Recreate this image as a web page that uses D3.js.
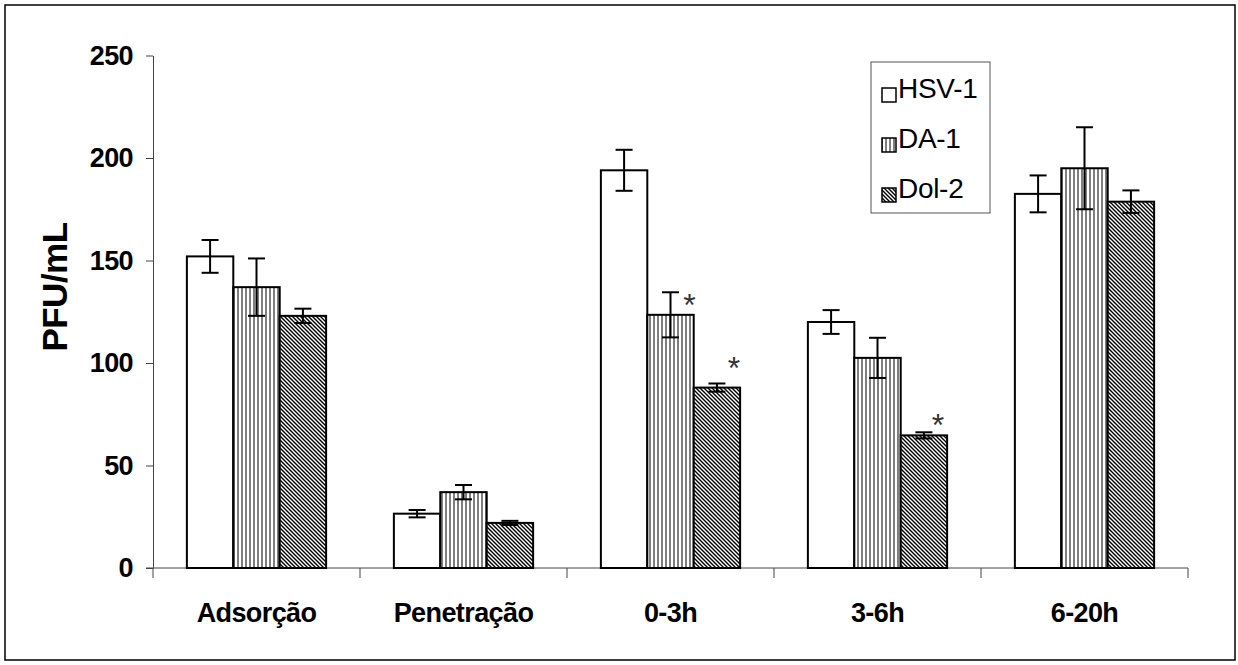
<!DOCTYPE html>
<html>
<head>
<meta charset="utf-8">
<script src="https://cdn.jsdelivr.net/npm/d3@7"></script>
<style>
  body { margin: 0; background: #fff; }
  svg { display: block; font-family: "Liberation Sans", Arial, sans-serif; }
</style>
</head>
<body>
<svg id="chart" width="1238" height="665"></svg>
<script>
const categories = ["Adsorção", "Penetração", "0-3h", "3-6h", "6-20h"];
const seriesNames = ["HSV-1", "DA-1", "Dol-2"];
const hsv1 = [152, 26.5, 194, 120, 182.5];
const hsv1Err = [8, 1.8, 10, 5.8, 9];
const da1 = [137, 37, 123.5, 102.5, 195];
const da1Err = [14, 3.5, 11, 9.8, 20];
const dol2 = [123, 22, 88, 64.7, 178.7];
const dol2Err = [3.5, 1, 2, 1.5, 5.5];
const yTicks = [0, 50, 100, 150, 200, 250];
// significance marks: category, series index, offset of the mark centre from the error bar top
const stars = [
  { cat: "0-3h", s: 1, dx: 19, dy: 6 },
  { cat: "0-3h", s: 2, dx: 17, dy: -23 },
  { cat: "3-6h", s: 2, dx: 14, dy: -14 },
];

const values = [hsv1, da1, dol2];
const errors = [hsv1Err, da1Err, dol2Err];
const fills = ["#fff", "url(#vlines)", "url(#dlines)"];

const svg = d3.select("#chart");

// outer frame
svg.append("rect")
  .attr("x", 5).attr("y", 5)
  .attr("width", 1230).attr("height", 655)
  .attr("fill", "none").attr("stroke", "#000").attr("stroke-width", 1.5);

// patterns
const defs = svg.append("defs");
const vp = defs.append("pattern").attr("id", "vlines")
  .attr("patternUnits", "userSpaceOnUse").attr("width", 4).attr("height", 4);
vp.append("rect").attr("width", 4).attr("height", 4).attr("fill", "#fff");
vp.append("line").attr("x1", 2).attr("x2", 2).attr("y1", 0).attr("y2", 4)
  .attr("stroke", "#000").attr("stroke-width", 1);

const dp = defs.append("pattern").attr("id", "dlines")
  .attr("patternUnits", "userSpaceOnUse").attr("width", 4).attr("height", 4);
dp.append("rect").attr("width", 4).attr("height", 4).attr("fill", "#fff");
dp.append("path").attr("d", "M-1,-1L5,5M3,-1L5,1M-1,3L1,5")
  .attr("stroke", "#000").attr("stroke-width", 1.4);

const x = d3.scaleBand().domain(categories).range([153, 1188]);
const xs = d3.scaleBand().domain(d3.range(3))
  .range([0, x.bandwidth()]).paddingOuter(0.73).paddingInner(0);
const y = d3.scaleLinear().domain([0, 250]).range([568, 55.5]);

// y axis
const yAxis = svg.append("g")
  .attr("transform", "translate(153,0)")
  .call(d3.axisLeft(y).tickValues(yTicks).tickSize(7).tickPadding(13).tickSizeOuter(0));
yAxis.select(".domain").attr("stroke", "#444");
yAxis.selectAll(".tick line").attr("stroke", "#444");
yAxis.selectAll(".tick text")
  .attr("fill", "#000")
  .style("font-family", "'Liberation Sans', Arial, sans-serif")
  .style("font-size", "27px").style("font-weight", "bold")
  .style("letter-spacing", "-0.6px");

// x axis: line plus ticks between categories
const xEdges = categories.map((c) => x(c)).concat([x.range()[1]]);
svg.append("line")
  .attr("x1", 146).attr("x2", x.range()[1])
  .attr("y1", y(0)).attr("y2", y(0))
  .attr("stroke", "#444");
svg.selectAll(".xtick").data(xEdges).join("line")
  .attr("class", "xtick")
  .attr("x1", (d) => d).attr("x2", (d) => d)
  .attr("y1", y(0)).attr("y2", y(0) + 10)
  .attr("stroke", "#444");
svg.selectAll(".xlab").data(categories).join("text")
  .attr("class", "xlab")
  .attr("x", (d) => x(d) + x.bandwidth() / 2)
  .attr("y", 622)
  .attr("text-anchor", "middle")
  .style("font-size", "27px").style("font-weight", "bold")
  .style("letter-spacing", "-0.6px")
  .text((d) => d);

// y title
svg.append("text")
  .attr("transform", "translate(67,287) rotate(-90)")
  .attr("text-anchor", "middle")
  .style("font-size", "35px").style("font-weight", "bold")
  .style("letter-spacing", "-0.5px")
  .text("PFU/mL");

// bars
const rows = [];
categories.forEach((c, i) => {
  seriesNames.forEach((s, j) => {
    rows.push({ cat: c, s: j, v: values[j][i], e: errors[j][i] });
  });
});
const bx = (d) => x(d.cat) + xs(d.s);
const bars = svg.append("g");
bars.selectAll("rect").data(rows).join("rect")
  .attr("x", bx)
  .attr("y", (d) => y(d.v))
  .attr("width", xs.bandwidth())
  .attr("height", (d) => y(0) - y(d.v))
  .attr("fill", (d) => fills[d.s])
  .attr("stroke", "#000").attr("stroke-width", 2);

// error bars
const cap = 8.5;
const eb = svg.append("g").attr("stroke", "#000").attr("stroke-width", 2);
rows.forEach((d) => {
  const cx = bx(d) + xs.bandwidth() / 2;
  eb.append("line").attr("x1", cx).attr("x2", cx)
    .attr("y1", y(d.v + d.e)).attr("y2", y(d.v - d.e));
  eb.append("line").attr("x1", cx - cap).attr("x2", cx + cap)
    .attr("y1", y(d.v + d.e)).attr("y2", y(d.v + d.e));
  eb.append("line").attr("x1", cx - cap).attr("x2", cx + cap)
    .attr("y1", y(d.v - d.e)).attr("y2", y(d.v - d.e));
});

// asterisks (glyph centre sits ~18px above the baseline at 32px)
svg.selectAll(".star").data(stars).join("text")
  .attr("class", "star")
  .attr("x", (d) => x(d.cat) + xs(d.s) + xs.bandwidth() / 2 + d.dx)
  .attr("y", (d) => {
    const i = categories.indexOf(d.cat);
    return y(values[d.s][i] + errors[d.s][i]) + d.dy + 18;
  })
  .attr("text-anchor", "middle")
  .attr("fill", "#333")
  .style("font-size", "32px")
  .text("*");

// legend
const lg = svg.append("g");
lg.append("rect")
  .attr("x", 871).attr("y", 62).attr("width", 119).attr("height", 151)
  .attr("fill", "#fff").attr("stroke", "#555").attr("stroke-width", 1);
seriesNames.forEach((s, j) => {
  const base = 98 + j * 50;
  lg.append("rect")
    .attr("x", 882).attr("y", base - 10)
    .attr("width", 14).attr("height", 14)
    .attr("fill", fills[j]).attr("stroke", "#000").attr("stroke-width", 1.5);
  lg.append("text")
    .attr("x", 898).attr("y", base)
    .style("font-size", "28px")
    .style("letter-spacing", "-0.3px")
    .text(s);
});
</script>
</body>
</html>
